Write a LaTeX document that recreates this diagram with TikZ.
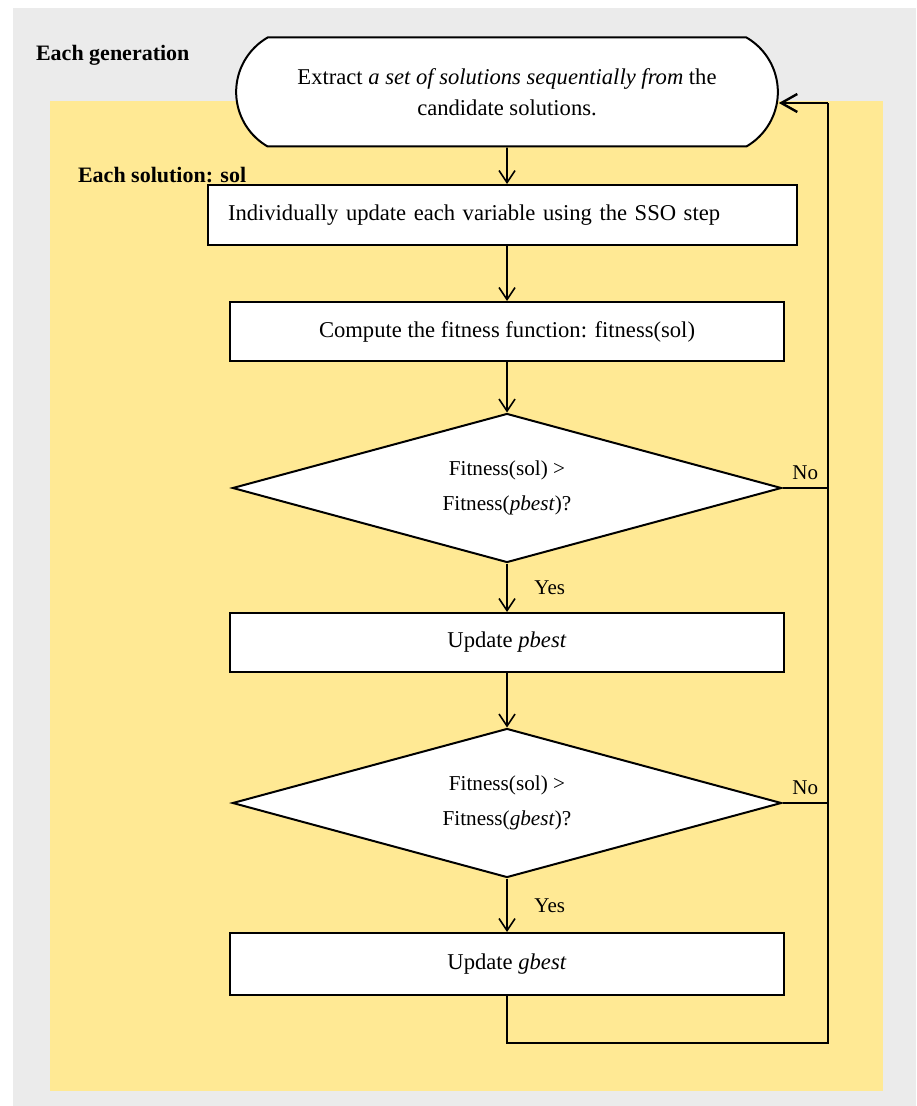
\documentclass[tikz,border=0pt]{standalone}
\usepackage{fontspec}
\setmainfont{Liberation Serif}
\usepackage{tikz}
\usetikzlibrary{shapes, arrows.meta, positioning}
\definecolor{pagegray}{HTML}{EBEBEB}
\definecolor{loopyellow}{HTML}{FFE994}
\tikzset{%
    % Loop titles
    looplabel/.style = {font=\fontsize{11}{13}\selectfont\bfseries, anchor=west},
    % Yes / No
    branch/.style    = {font=\fontsize{10.5}{13}\selectfont},
}

\begin{document}
\begin{tikzpicture}[x=0.5pt, y=-0.5pt]

	\tikzstyle{terminal}=[rounded rectangle, rounded rectangle arc length=120, draw, line width=1pt, fill=white, minimum width=277.5pt, minimum height=54.5pt, align=center, font=\fontsize{11.3}{15.5}\selectfont]
	\tikzstyle{instruct}=[rectangle, draw, line width=1pt, fill=white, minimum width=277pt, minimum height=29.5pt, text badly centered, font=\fontsize{11.3}{13}\selectfont]
	\tikzstyle{test}=[diamond, aspect=3.7, draw, line width=1pt, fill=white, minimum width=274.5pt, minimum height=74.5pt, inner sep=0pt, align=center, font=\fontsize{10.6}{17.5}\selectfont]
	\tikzstyle{arc}=[-{Straight Barb[length=6pt,width=8pt]}, line width=0.8pt, black]
	\tikzstyle{back}=[line width=1.2pt, black]

	\useasboundingbox (0,0) rectangle (916,1106);
	% fond
	\fill[pagegray] (13,8) rectangle (916,1106);
	\fill[loopyellow] (50,101) rectangle (883,1091);

	% placement des noeuds
	\node[looplabel] (gen) at (29,55) {Each generation};
	\node[looplabel] (each) at (71,175) {Each solution: sol};
	\node[terminal] (extract) at (507,92) {Extract \textit{a set of solutions sequentially from} the\\candidate solutions.};
	\node[instruct, text width=274.5pt, inner xsep=10pt, minimum height=30pt, align=left] (update) at (502.5,215) {Individually update each variable using the SSO step};
	\node[instruct] (fitness) at (507,331.5) {Compute the fitness function: fitness(sol)};
	\node[test] (testp) at (507,488) {Fitness(sol) >\\Fitness(\textit{pbest})?};
	\node[instruct] (pbest) at (507,642.5) {Update \textit{pbest}};
	\node[test] (testg) at (507,803) {Fitness(sol) >\\Fitness(\textit{gbest})?};
	\node[instruct, minimum height=31pt] (gbest) at (507,964) {Update \textit{gbest}};
	\coordinate (corner) at (828,1043);
	\coordinate (top) at (828,103);

	\draw[arc] (extract) -- (extract |- update.north);
	\draw[arc] (update.south -| fitness) -- (fitness);
	\draw[arc] (fitness) -- (testp);
	\draw[arc] (testp) -- node[branch, right=10pt] {Yes} (pbest);
	\draw[arc] (pbest) -- (testg);
	\draw[arc] (testg) -- node[branch, right=10pt] {Yes} (gbest);

	% retour
	\draw[back] (testp.east) -- node[branch, above] {No} (testp.east -| corner);
	\draw[back] (testg.east) -- node[branch, above] {No} (testg.east -| corner);
	\draw[back] (gbest) |- (corner) -- (top);
	\draw[back, -{Straight Barb[length=8pt,width=9pt]}] (top) -- (extract.east |- top);

\end{tikzpicture}
\end{document}
